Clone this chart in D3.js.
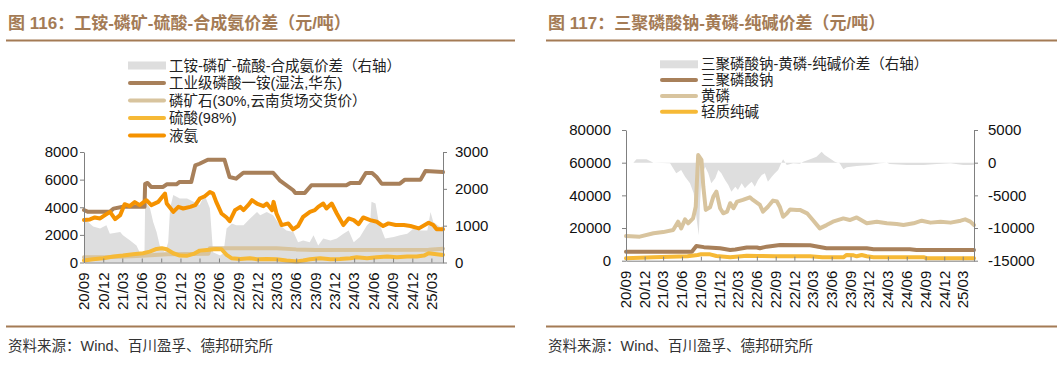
<!DOCTYPE html>
<html>
<head>
<meta charset="utf-8">
<script src="https://cdn.jsdelivr.net/npm/d3@7"></script>
<style>
  body { margin: 0; background: #fff; }
  svg { display: block; font-family: "Liberation Sans", Arial, "Noto Sans CJK SC", sans-serif; }
</style>
</head>
<body>
<svg id="chart" width="1063" height="367"></svg>
<script>
// x-axis tick labels (quarterly, yy/mm)
const quarterTicks = ['20/09', '20/12', '21/03', '21/06', '21/09', '21/12', '22/03', '22/06', '22/09',
  '22/12', '23/03', '23/06', '23/09', '23/12', '24/03', '24/06', '24/09', '24/12', '25/03'];
const dateStart = '2020-09-01';
const dateEnd = '2025-04-25';

// ---- 图116 ----
const ticks116Left = [0, 2000, 4000, 6000, 8000];
const ticks116Right = [0, 1000, 2000, 3000];

// 工铵-磷矿-硫酸-合成氨价差 (right axis)
const spread116 = [
  ['2020-09-01', 1200], ['2020-10-14', 980], ['2020-11-16', 920], ['2020-12-16', 1010], ['2021-01-01', 780],
  ['2021-02-19', 830], ['2021-03-04', 740], ['2021-04-07', 600], ['2021-05-07', 460], ['2021-05-22', 280],
  ['2021-06-14', 280], ['2021-06-17', 1650], ['2021-07-10', 1470], ['2021-07-25', 1100], ['2021-08-10', 830],
  ['2021-08-25', 460], ['2021-09-19', 280], ['2021-10-04', 550], ['2021-10-13', 1470], ['2021-10-28', 1830],
  ['2021-11-28', 1740], ['2022-01-01', 1740], ['2022-02-01', 1650], ['2022-03-01', 1560], ['2022-03-25', 1830],
  ['2022-04-19', 1470], ['2022-05-04', 280], ['2022-06-07', 190], ['2022-06-22', 250], ['2022-07-07', 920],
  ['2022-08-01', 1060], ['2022-08-22', 1010], ['2022-09-25', 1010], ['2022-10-25', 1190], ['2022-11-28', 1370],
  ['2022-12-13', 1280], ['2023-01-13', 1370], ['2023-02-12', 1280], ['2023-03-16', 1010], ['2023-04-16', 870],
  ['2023-05-19', 830], ['2023-06-10', 550], ['2023-07-04', 600], ['2023-08-04', 550], ['2023-08-22', 740],
  ['2023-09-13', 460], ['2023-10-07', 650], ['2023-11-10', 600], ['2023-12-10', 650], ['2024-01-10', 780],
  ['2024-02-04', 870], ['2024-02-28', 550], ['2024-03-28', 690], ['2024-05-01', 1010], ['2024-05-16', 1100],
  ['2024-05-22', 1650], ['2024-06-10', 1600], ['2024-06-25', 1100], ['2024-07-25', 650], ['2024-09-04', 690],
  ['2024-10-04', 740], ['2024-11-07', 780], ['2024-12-07', 920], ['2025-01-10', 870], ['2025-02-10', 870],
  ['2025-02-25', 1370], ['2025-03-10', 1100], ['2025-04-13', 960], ['2025-04-25', 1000]
];
// 工业级磷酸一铵(湿法,华东)
const map116 = [
  ['2020-09-01', 3800], ['2020-09-20', 3670], ['2021-01-01', 3670], ['2021-01-18', 3900], ['2021-03-04', 4030],
  ['2021-06-14', 4030], ['2021-06-17', 5700], ['2021-06-28', 5760], ['2021-07-15', 5470], ['2021-09-10', 5470],
  ['2021-09-27', 5660], ['2021-11-12', 5660], ['2021-11-27', 5830], ['2022-01-21', 5830], ['2022-02-09', 7030],
  ['2022-03-01', 7150], ['2022-04-09', 7440], ['2022-06-27', 7440], ['2022-07-21', 6190], ['2022-08-21', 6070],
  ['2022-09-24', 6500], ['2023-02-12', 6500], ['2023-03-15', 5950], ['2023-05-18', 5230], ['2023-05-28', 5040],
  ['2023-07-12', 5040], ['2023-08-12', 5590], ['2024-01-24', 5590], ['2024-02-12', 5760], ['2024-03-27', 5760],
  ['2024-04-25', 6480], ['2024-05-25', 6480], ['2024-06-15', 6190], ['2024-07-09', 5710], ['2024-10-03', 5710],
  ['2024-10-27', 6000], ['2025-01-09', 6000], ['2025-02-01', 6620], ['2025-04-25', 6550]
];
// 磷矿石(30%,云南货场交货价)
const rock116 = [
  ['2020-09-01', 380], ['2021-01-15', 400], ['2021-03-15', 430], ['2021-06-01', 480], ['2021-08-01', 550],
  ['2021-10-01', 600], ['2022-01-01', 620], ['2022-04-12', 640], ['2022-04-19', 1030], ['2023-03-01', 1030],
  ['2023-06-01', 950], ['2023-09-01', 910], ['2025-02-16', 920], ['2025-04-25', 1000]
];
// 硫酸(98%)
const acid116 = [
  ['2020-09-01', 140], ['2020-10-14', 240], ['2020-12-01', 310], ['2021-01-18', 430], ['2021-03-04', 500],
  ['2021-04-21', 600], ['2021-06-07', 670], ['2021-07-09', 790], ['2021-08-10', 980], ['2021-09-04', 1030],
  ['2021-09-27', 960], ['2021-10-28', 670], ['2021-11-28', 500], ['2021-12-30', 480], ['2022-02-01', 620],
  ['2022-03-02', 860], ['2022-04-04', 910], ['2022-05-19', 980], ['2022-06-13', 960], ['2022-07-07', 550],
  ['2022-07-30', 310], ['2022-09-10', 260], ['2022-10-25', 310], ['2022-11-27', 240], ['2023-01-13', 260],
  ['2023-02-28', 240], ['2023-04-16', 140], ['2023-06-04', 70], ['2023-07-04', 140], ['2023-08-05', 240],
  ['2023-09-22', 310], ['2023-11-10', 240], ['2023-12-25', 260], ['2024-02-12', 310], ['2024-03-13', 380],
  ['2024-05-01', 310], ['2024-06-16', 380], ['2024-08-04', 430], ['2024-09-19', 380], ['2024-11-07', 430],
  ['2024-12-22', 430], ['2025-01-25', 500], ['2025-02-16', 670], ['2025-03-26', 600], ['2025-04-25', 550]
];
// 液氨
const ammonia116 = [
  ['2020-09-01', 3070], ['2020-09-29', 3120], ['2020-10-22', 3260], ['2020-11-16', 3190], ['2020-12-09', 3430],
  ['2021-01-02', 3670], ['2021-01-26', 3140], ['2021-02-19', 3430], ['2021-03-12', 4220], ['2021-04-05', 4080],
  ['2021-04-29', 4370], ['2021-05-22', 4150], ['2021-06-23', 4510], ['2021-07-16', 4150], ['2021-08-18', 4390],
  ['2021-09-19', 4990], ['2021-09-27', 4270], ['2021-10-28', 3670], ['2021-11-21', 4030], ['2021-12-14', 3910],
  ['2022-01-16', 4030], ['2022-02-09', 4150], ['2022-03-02', 4630], ['2022-03-26', 4800], ['2022-04-19', 5110],
  ['2022-05-04', 4990], ['2022-05-19', 4390], ['2022-06-13', 3550], ['2022-07-07', 3260], ['2022-07-22', 2990],
  ['2022-08-16', 3790], ['2022-09-10', 4030], ['2022-09-25', 3790], ['2022-10-17', 4150], ['2022-11-04', 4510],
  ['2022-11-27', 4270], ['2022-12-28', 4080], ['2023-01-13', 4270], ['2023-02-07', 3790], ['2023-02-14', 4390],
  ['2023-02-28', 3550], ['2023-03-24', 2710], ['2023-04-25', 2830], ['2023-05-17', 2400], ['2023-06-10', 2640],
  ['2023-07-04', 3310], ['2023-08-05', 3670], ['2023-08-28', 3790], ['2023-09-13', 4030], ['2023-10-07', 4270],
  ['2023-10-22', 3910], ['2023-11-16', 4270], ['2023-12-10', 3550], ['2024-01-10', 2710], ['2024-02-04', 3190],
  ['2024-02-28', 3070], ['2024-03-22', 2780], ['2024-04-13', 3260], ['2024-05-16', 3070], ['2024-06-16', 2950],
  ['2024-07-16', 2640], ['2024-08-10', 2830], ['2024-09-13', 2710], ['2024-10-22', 2710], ['2024-11-22', 2640],
  ['2025-01-01', 2470], ['2025-02-16', 2880], ['2025-03-10', 2710], ['2025-03-26', 2400], ['2025-04-25', 2400]
];

// ---- 图117 ----
const ticks117Left = [0, 20000, 40000, 60000, 80000];
const ticks117Right = [-15000, -10000, -5000, 0, 5000];

// 三聚磷酸钠-黄磷-纯碱价差 (right axis)
const spread117 = [
  ['2020-10-07', 0], ['2020-10-22', 510], ['2020-12-10', 510], ['2021-01-13', 0], ['2021-04-04', -100],
  ['2021-04-19', -870], ['2021-05-04', -1630], ['2021-05-28', -1120], ['2021-06-16', -2140], ['2021-07-10', -3160],
  ['2021-07-28', -4690], ['2021-08-10', -8260], ['2021-08-22', -11120], ['2021-08-28', -6220], ['2021-09-04', -2140],
  ['2021-09-22', -610], ['2021-10-07', -1630], ['2021-10-22', -3160], ['2021-11-10', -2400], ['2021-11-25', -1120],
  ['2021-12-10', -1630], ['2021-12-28', -2650], ['2022-01-13', -3420], ['2022-01-28', -4440], ['2022-02-16', -3670],
  ['2022-03-01', -4180], ['2022-03-19', -3160], ['2022-04-04', -3930], ['2022-04-19', -3420], ['2022-05-07', -2910],
  ['2022-05-22', -3670], ['2022-06-07', -2650], ['2022-06-25', -1890], ['2022-07-10', -1630], ['2022-07-25', -2910],
  ['2022-08-13', -2140], ['2022-08-28', -1630], ['2022-09-13', -1120], ['2022-10-01', 150], ['2022-10-07', 510],
  ['2022-10-25', -360], ['2022-11-25', -100], ['2022-12-28', -150], ['2023-01-13', 150], ['2023-02-16', 510],
  ['2023-03-19', 920], ['2023-04-13', 1680], ['2023-04-28', 1170], ['2023-05-22', 660], ['2023-06-16', 150],
  ['2023-07-10', -100], ['2023-07-28', -1020], ['2023-08-13', -710], ['2023-10-01', -510], ['2023-12-04', -360],
  ['2024-01-22', -100], ['2024-02-25', 0], ['2024-03-10', -200], ['2024-06-01', -360], ['2024-08-22', -360],
  ['2024-10-25', -200], ['2025-01-01', -100], ['2025-03-04', -360], ['2025-04-13', -360], ['2025-04-25', -300]
];
// 三聚磷酸钠
const stpp117 = [
  ['2020-09-01', 5500], ['2021-07-19', 5500], ['2021-08-10', 9000], ['2021-09-16', 8300], ['2021-12-04', 7600],
  ['2022-01-22', 6500], ['2022-02-16', 6800], ['2022-04-13', 8100], ['2022-06-01', 8100], ['2022-06-16', 7600],
  ['2022-07-19', 8600], ['2022-08-16', 9000], ['2022-09-22', 9600], ['2023-02-16', 9400], ['2023-05-07', 7600],
  ['2023-11-19', 7600], ['2023-12-22', 7000], ['2024-06-16', 7000], ['2024-07-19', 6500], ['2025-04-25', 6500]
];
// 黄磷
const phos117 = [
  ['2020-09-01', 15100], ['2020-11-07', 14700], ['2021-01-13', 16800], ['2021-03-01', 17500], ['2021-04-19', 18800],
  ['2021-05-13', 23900], ['2021-05-28', 19800], ['2021-06-16', 25300], ['2021-07-01', 22900], ['2021-07-25', 25900],
  ['2021-08-07', 33000], ['2021-08-19', 64700], ['2021-09-04', 61700], ['2021-09-13', 45400], ['2021-09-25', 31100],
  ['2021-10-16', 32700], ['2021-11-01', 39200], ['2021-11-16', 42300], ['2021-12-04', 32100], ['2021-12-19', 29000],
  ['2022-01-07', 30000], ['2022-01-22', 35200], ['2022-02-07', 32100], ['2022-02-25', 36200], ['2022-03-25', 37200],
  ['2022-04-28', 38800], ['2022-05-13', 37200], ['2022-06-16', 34100], ['2022-07-01', 30000], ['2022-07-25', 33000],
  ['2022-08-19', 36800], ['2022-09-07', 36200], ['2022-09-22', 32700], ['2022-10-07', 26900], ['2022-10-25', 28900],
  ['2022-11-10', 31400], ['2022-12-13', 31000], ['2022-12-28', 31100], ['2023-02-01', 29000], ['2023-03-01', 24900],
  ['2023-04-04', 19800], ['2023-05-07', 21800], ['2023-06-07', 23900], ['2023-07-28', 25900], ['2023-08-28', 24900],
  ['2023-10-01', 26500], ['2023-11-19', 22900], ['2024-01-07', 23900], ['2024-02-25', 22900], ['2024-04-13', 22400],
  ['2024-05-16', 21800], ['2024-07-04', 22900], ['2024-08-13', 24500], ['2024-09-25', 23300], ['2024-11-13', 23900],
  ['2025-01-01', 23300], ['2025-02-19', 24500], ['2025-03-13', 25300], ['2025-04-07', 23900], ['2025-04-25', 21800]
];
// 轻质纯碱
const soda117 = [
  ['2020-09-01', 1500], ['2021-01-13', 2100], ['2021-06-28', 2700], ['2021-08-16', 3500], ['2021-09-01', 3900],
  ['2021-10-16', 3900], ['2021-11-16', 2900], ['2022-01-22', 2100], ['2022-04-13', 3100], ['2022-06-01', 2900],
  ['2022-09-01', 2700], ['2023-02-16', 2700], ['2023-04-16', 2100], ['2023-07-28', 2100], ['2023-08-13', 3500],
  ['2023-09-16', 3300], ['2023-10-01', 2700], ['2023-10-25', 3500], ['2023-11-19', 2700], ['2023-12-22', 2100],
  ['2024-08-25', 2100], ['2024-09-07', 1500], ['2025-04-25', 1500]
];

const colors = {
  spread: '#dedede',
  brown: '#a8805a',
  tan: '#d8c49e',
  yellow: '#f6b936',
  orange: '#f59200',
  accent: '#a47b55',
};

const parseDay = d3.timeParse('%Y-%m-%d');
const parseTick = d3.timeParse('%y/%m');
const plainNum = d => String(d); // no thousands separator, ascii minus
const svg = d3.select('#chart');

function drawPanel(p) {
  const g = svg.append('g');

  // title + rules
  g.append('text')
    .attr('x', p.x0 + 2).attr('y', 29)
    .attr('font-size', 17).attr('font-weight', 'bold')
    .attr('fill', colors.accent)
    .text(p.title);
  g.append('line').attr('x1', p.x0).attr('x2', p.x1).attr('y1', 40.5).attr('y2', 40.5)
    .attr('stroke', colors.accent).attr('stroke-width', 2);
  g.append('line').attr('x1', p.x0).attr('x2', p.x1).attr('y1', 326.5).attr('y2', 326.5)
    .attr('stroke', colors.accent).attr('stroke-width', 2);
  g.append('text')
    .attr('x', p.x0 + 2).attr('y', 351)
    .attr('font-size', 14.5).attr('fill', '#333')
    .text('资料来源：Wind、百川盈孚、德邦研究所');

  // scales
  const x = d3.scaleTime().domain([parseDay(dateStart), parseDay(dateEnd)]).range([p.left, p.right]);
  const yL = d3.scaleLinear().domain(d3.extent(p.leftTicks)).range([p.bottom, p.top]);
  const yR = d3.scaleLinear().domain(d3.extent(p.rightTicks)).range([p.bottom, p.top]);

  // spread area on the right axis
  const area = d3.area()
    .x(d => x(parseDay(d[0])))
    .y0(yR(0))
    .y1(d => yR(d[1]));
  g.append('path').datum(p.area.data).attr('d', area).attr('fill', colors.spread);

  const line = d3.line()
    .x(d => x(parseDay(d[0])))
    .y(d => yL(d[1]));
  p.lines.forEach(s => {
    g.append('path').datum(s.data).attr('d', line)
      .attr('fill', 'none').attr('stroke', s.color).attr('stroke-width', 4)
      .attr('stroke-linejoin', 'round').attr('stroke-linecap', 'round');
  });

  // axes
  const axisColor = '#808080';
  const ax = g.append('g').attr('transform', `translate(0,${p.bottom})`)
    .call(d3.axisBottom(x).tickValues(quarterTicks.map(parseTick)).tickSize(-4).tickSizeOuter(0).tickFormat(''));
  ax.selectAll('text').remove();
  quarterTicks.forEach(t => {
    g.append('text')
      .attr('transform', `translate(${x(parseTick(t))},${p.bottom + 10}) rotate(-90)`)
      .attr('text-anchor', 'end').attr('dy', '0.35em')
      .attr('font-size', 15).attr('fill', '#111')
      .text(t);
  });

  const al = g.append('g').attr('transform', `translate(${p.left},0)`)
    .call(d3.axisLeft(yL).tickValues(p.leftTicks).tickSize(4).tickSizeOuter(0).tickPadding(p.leftPad)
      .tickFormat(plainNum));
  const ar = g.append('g').attr('transform', `translate(${p.right},0)`)
    .call(d3.axisRight(yR).tickValues(p.rightTicks).tickSize(4).tickSizeOuter(0).tickPadding(p.rightPad)
      .tickFormat(plainNum));
  [ax, al, ar].forEach(a => {
    a.selectAll('path, line').attr('stroke', axisColor);
    a.selectAll('text').attr('font-size', 15).attr('fill', '#111').attr('font-family', null);
  });

  // legend
  const items = [{ name: p.area.name, color: colors.spread, area: true }].concat(p.lines);
  items.forEach((it, i) => {
    const ly = p.legendY + i * p.legendDy;
    if (it.area) {
      g.append('rect').attr('x', p.legendX).attr('y', ly - 4).attr('width', 38).attr('height', 8)
        .attr('fill', it.color);
    } else {
      g.append('line').attr('x1', p.legendX + 2).attr('x2', p.legendX + 36).attr('y1', ly).attr('y2', ly)
        .attr('stroke', it.color).attr('stroke-width', 4).attr('stroke-linecap', 'round');
    }
    g.append('text').attr('x', p.legendX + 41).attr('y', ly).attr('dy', '0.35em')
      .attr('font-size', 14.5).attr('fill', '#222')
      .text(it.name);
  });
}

drawPanel({
  title: '图 116：工铵-磷矿-硫酸-合成氨价差（元/吨）',
  x0: 6, x1: 515,
  left: 84, right: 443, top: 152, bottom: 262.5,
  leftTicks: ticks116Left, rightTicks: ticks116Right,
  leftPad: 2, rightPad: 8,
  legendX: 128, legendY: 65.5, legendDy: 17.5,
  area: { name: '工铵-磷矿-硫酸-合成氨价差（右轴）', data: spread116 },
  lines: [
    { name: '工业级磷酸一铵(湿法,华东)', color: colors.brown, data: map116 },
    { name: '磷矿石(30%,云南货场交货价）', color: colors.tan, data: rock116 },
    { name: '硫酸(98%)', color: colors.yellow, data: acid116 },
    { name: '液氨', color: colors.orange, data: ammonia116 },
  ],
});

drawPanel({
  title: '图 117：三聚磷酸钠-黄磷-纯碱价差（元/吨）',
  x0: 546, x1: 1057,
  left: 626, right: 974, top: 130, bottom: 260.7,
  leftTicks: ticks117Left, rightTicks: ticks117Right,
  leftPad: 11, rightPad: 10,
  legendX: 660, legendY: 64.3, legendDy: 15.8,
  area: { name: '三聚磷酸钠-黄磷-纯碱价差（右轴）', data: spread117 },
  lines: [
    { name: '三聚磷酸钠', color: colors.brown, data: stpp117 },
    { name: '黄磷', color: colors.tan, data: phos117 },
    { name: '轻质纯碱', color: colors.yellow, data: soda117 },
  ],
});
</script>
</body>
</html>
